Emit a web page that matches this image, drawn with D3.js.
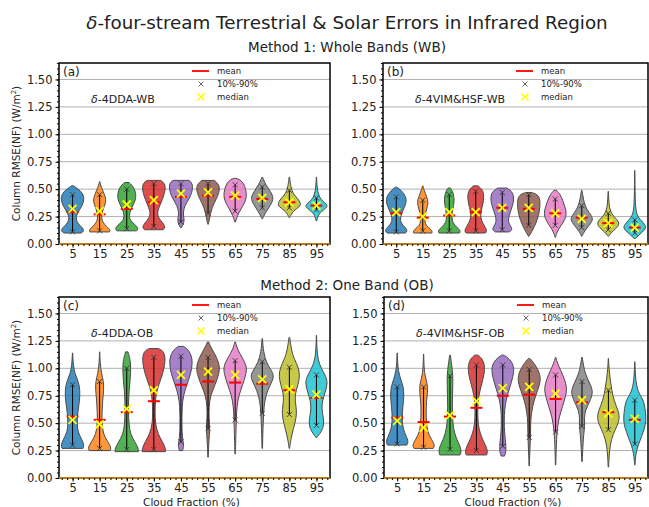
<!DOCTYPE html>
<html>
<head>
<meta charset="utf-8">
<script src="https://cdn.jsdelivr.net/npm/d3@7"></script>
<style>
  body { margin: 0; background: #fff; }
  text { font-family: "DejaVu Sans", sans-serif; fill: #222; }
</style>
</head>
<body>
<svg id="chart" width="649" height="507"></svg>
<script>
// cloud fraction bins
const categories = [5, 15, 25, 35, 45, 55, 65, 75, 85, 95];
const yTicks = [0, 0.25, 0.5, 0.75, 1.0, 1.25, 1.5];
const colors = ["#1f77b4", "#ff7f0e", "#2ca02c", "#d62728", "#9467bd", "#8c564b", "#e377c2", "#7f7f7f", "#bcbd22", "#17becf"];

// (a) delta-4DDA-WB
const medianA = [0.32, 0.30, 0.36, 0.40, 0.46, 0.47, 0.44, 0.42, 0.38, 0.35];
const meanA   = [0.29, 0.27, 0.32, 0.38, 0.43, 0.44, 0.43, 0.41, 0.38, 0.35];
const p10A    = [0.11, 0.12, 0.14, 0.16, 0.20, 0.28, 0.30, 0.33, 0.33, 0.31];
const p90A    = [0.45, 0.45, 0.50, 0.55, 0.55, 0.55, 0.54, 0.52, 0.49, 0.42];
// violin outlines: [value, relative half width]
const shapeA = [
  [[0.10,0.75],[0.12,1.0],[0.15,0.85],[0.19,0.4],[0.24,0.28],[0.29,0.45],[0.35,0.85],[0.41,1.0],[0.46,0.9],[0.50,0.5],[0.53,0.1]],
  [[0.11,0.85],[0.13,0.9],[0.16,0.6],[0.20,0.22],[0.26,0.15],[0.32,0.3],[0.38,0.55],[0.43,0.5],[0.49,0.25],[0.54,0.08],[0.57,0.0]],
  [[0.12,0.85],[0.14,1.0],[0.17,0.8],[0.21,0.3],[0.26,0.2],[0.32,0.35],[0.39,0.75],[0.46,0.8],[0.52,0.6],[0.56,0.2]],
  [[0.13,0.8],[0.15,1.0],[0.19,0.8],[0.24,0.35],[0.30,0.3],[0.37,0.6],[0.44,0.85],[0.50,1.0],[0.55,0.95],[0.58,0.6]],
  [[0.15,0.05],[0.18,0.2],[0.22,0.3],[0.26,0.2],[0.32,0.22],[0.38,0.5],[0.44,0.85],[0.50,1.0],[0.55,1.0],[0.58,0.7]],
  [[0.18,0.02],[0.24,0.15],[0.30,0.25],[0.37,0.5],[0.43,0.8],[0.49,1.0],[0.54,0.95],[0.58,0.55]],
  [[0.20,0.02],[0.26,0.2],[0.32,0.5],[0.38,0.85],[0.44,1.0],[0.50,0.9],[0.55,0.75],[0.59,0.4],[0.60,0.0]],
  [[0.23,0.02],[0.30,0.35],[0.36,0.75],[0.42,1.0],[0.48,0.7],[0.54,0.3],[0.61,0.02]],
  [[0.24,0.02],[0.30,0.3],[0.34,0.9],[0.37,1.0],[0.41,0.75],[0.46,0.3],[0.52,0.12],[0.61,0.02]],
  [[0.21,0.02],[0.28,0.2],[0.32,0.75],[0.35,1.0],[0.38,0.65],[0.43,0.18],[0.52,0.05],[0.61,0.01]]
];

// (b) delta-4VIM&HSF-WB
const medianB = [0.29, 0.25, 0.29, 0.29, 0.33, 0.33, 0.28, 0.23, 0.19, 0.15];
const meanB   = [0.28, 0.24, 0.26, 0.29, 0.33, 0.32, 0.28, 0.24, 0.19, 0.15];
const p10B    = [0.11, 0.12, 0.12, 0.12, 0.13, 0.17, 0.17, 0.15, 0.13, 0.10];
const p90B    = [0.43, 0.40, 0.45, 0.48, 0.47, 0.45, 0.41, 0.35, 0.28, 0.22];
const shapeB = [
  [[0.10,0.8],[0.12,1.0],[0.15,0.8],[0.19,0.4],[0.24,0.35],[0.30,0.55],[0.36,0.85],[0.42,0.9],[0.47,0.6],[0.51,0.2],[0.52,0.0]],
  [[0.10,0.8],[0.12,0.85],[0.15,0.5],[0.18,0.2],[0.25,0.15],[0.32,0.35],[0.38,0.5],[0.43,0.35],[0.49,0.12],[0.53,0.02]],
  [[0.10,0.9],[0.12,1.0],[0.15,0.7],[0.19,0.3],[0.25,0.22],[0.32,0.3],[0.38,0.45],[0.44,0.4],[0.48,0.3],[0.51,0.1]],
  [[0.10,0.85],[0.12,1.0],[0.16,0.8],[0.21,0.5],[0.27,0.4],[0.33,0.55],[0.40,0.7],[0.46,0.7],[0.50,0.55],[0.53,0.2]],
  [[0.11,0.6],[0.13,0.9],[0.16,0.75],[0.20,0.5],[0.26,0.6],[0.32,0.8],[0.38,1.0],[0.44,1.0],[0.48,0.85],[0.51,0.4]],
  [[0.07,0.02],[0.11,0.25],[0.16,0.5],[0.22,0.75],[0.30,0.95],[0.37,1.0],[0.43,0.95],[0.46,0.6],[0.47,0.2]],
  [[0.06,0.02],[0.11,0.15],[0.16,0.45],[0.22,0.85],[0.28,1.0],[0.34,0.85],[0.40,0.65],[0.45,0.45],[0.49,0.1]],
  [[0.07,0.02],[0.12,0.25],[0.17,0.65],[0.22,1.0],[0.26,0.85],[0.31,0.45],[0.38,0.2],[0.44,0.1],[0.49,0.02]],
  [[0.07,0.02],[0.11,0.3],[0.15,0.8],[0.19,1.0],[0.23,0.7],[0.27,0.3],[0.33,0.1],[0.40,0.05],[0.48,0.01]],
  [[0.05,0.05],[0.09,0.45],[0.13,0.9],[0.16,1.0],[0.20,0.7],[0.24,0.3],[0.30,0.1],[0.40,0.04],[0.55,0.02],[0.67,0.01]]
];

// (c) delta-4DDA-OB
const medianC = [0.53, 0.49, 0.63, 0.80, 0.94, 0.97, 0.94, 0.90, 0.81, 0.76];
const meanC   = [0.56, 0.53, 0.60, 0.70, 0.85, 0.88, 0.87, 0.86, 0.80, 0.73];
const p10C    = [0.30, 0.27, 0.26, 0.26, 0.33, 0.45, 0.53, 0.59, 0.58, 0.48];
const p90C    = [0.85, 0.88, 1.00, 1.10, 1.11, 1.10, 1.07, 1.06, 1.01, 0.94];
const shapeC = [
  [[0.27,0.9],[0.30,1.0],[0.35,0.8],[0.42,0.45],[0.50,0.38],[0.60,0.45],[0.70,0.6],[0.80,0.65],[0.88,0.5],[0.95,0.2],[1.03,0.06],[1.14,0.01]],
  [[0.25,0.9],[0.28,1.0],[0.33,0.7],[0.40,0.3],[0.50,0.2],[0.60,0.2],[0.70,0.25],[0.80,0.35],[0.88,0.35],[0.95,0.15],[1.05,0.04],[1.15,0.01]],
  [[0.24,1.0],[0.27,1.0],[0.32,0.75],[0.40,0.3],[0.50,0.18],[0.60,0.15],[0.70,0.15],[0.80,0.2],[0.90,0.3],[1.00,0.35],[1.08,0.3],[1.15,0.1]],
  [[0.24,1.0],[0.27,1.0],[0.33,0.75],[0.40,0.35],[0.50,0.12],[0.60,0.1],[0.70,0.12],[0.80,0.25],[0.90,0.6],[1.00,0.9],[1.10,1.0],[1.16,0.8],[1.18,0.4]],
  [[0.25,0.15],[0.30,0.25],[0.35,0.15],[0.45,0.08],[0.55,0.08],[0.65,0.1],[0.75,0.2],[0.85,0.5],[0.95,0.85],[1.05,1.0],[1.12,0.9],[1.18,0.55],[1.20,0.2]],
  [[0.19,0.02],[0.30,0.05],[0.40,0.12],[0.47,0.15],[0.55,0.08],[0.65,0.08],[0.75,0.2],[0.85,0.6],[0.95,0.95],[1.02,1.0],[1.10,0.75],[1.18,0.3],[1.24,0.05]],
  [[0.22,0.02],[0.35,0.05],[0.45,0.08],[0.55,0.1],[0.65,0.15],[0.75,0.3],[0.85,0.65],[0.95,0.95],[1.02,1.0],[1.10,0.6],[1.17,0.2],[1.24,0.03]],
  [[0.27,0.02],[0.40,0.05],[0.50,0.08],[0.60,0.12],[0.70,0.2],[0.80,0.45],[0.88,0.85],[0.93,1.0],[0.98,0.8],[1.05,0.35],[1.15,0.1],[1.27,0.02]],
  [[0.27,0.02],[0.35,0.12],[0.45,0.35],[0.55,0.6],[0.62,0.62],[0.70,0.5],[0.77,0.5],[0.85,0.75],[0.93,0.9],[1.00,0.8],[1.08,0.45],[1.15,0.2],[1.28,0.03]],
  [[0.37,0.05],[0.42,0.4],[0.48,0.65],[0.55,0.6],[0.63,0.45],[0.70,0.5],[0.78,0.75],[0.86,0.95],[0.92,0.85],[1.00,0.4],[1.08,0.12],[1.18,0.04],[1.30,0.01]]
];

// (d) delta-4VIM&HSF-OB
const medianD = [0.52, 0.46, 0.57, 0.70, 0.82, 0.83, 0.77, 0.71, 0.59, 0.54];
const meanD   = [0.55, 0.51, 0.56, 0.64, 0.75, 0.76, 0.72, 0.69, 0.60, 0.53];
const p10D    = [0.31, 0.28, 0.26, 0.25, 0.29, 0.37, 0.42, 0.47, 0.44, 0.31];
const p90D    = [0.83, 0.83, 0.93, 1.03, 1.03, 0.99, 0.94, 0.88, 0.80, 0.71];
const shapeD = [
  [[0.30,0.85],[0.33,1.0],[0.38,0.8],[0.45,0.5],[0.55,0.42],[0.65,0.5],[0.75,0.6],[0.83,0.55],[0.90,0.3],[0.98,0.1],[1.05,0.04],[1.14,0.01]],
  [[0.27,0.85],[0.30,1.0],[0.35,0.7],[0.42,0.35],[0.50,0.25],[0.60,0.22],[0.70,0.25],[0.78,0.35],[0.85,0.35],[0.92,0.15],[1.00,0.04],[1.13,0.01]],
  [[0.21,0.9],[0.24,1.0],[0.29,0.9],[0.36,0.55],[0.45,0.3],[0.55,0.22],[0.65,0.2],[0.75,0.22],[0.85,0.25],[0.95,0.25],[1.03,0.15],[1.12,0.03]],
  [[0.21,0.9],[0.24,1.0],[0.29,0.85],[0.36,0.5],[0.45,0.2],[0.55,0.12],[0.65,0.12],[0.75,0.2],[0.85,0.45],[0.95,0.7],[1.03,0.75],[1.09,0.5],[1.12,0.15]],
  [[0.20,0.15],[0.25,0.3],[0.32,0.25],[0.42,0.15],[0.52,0.12],[0.62,0.15],[0.72,0.3],[0.82,0.6],[0.92,0.9],[1.00,1.0],[1.06,0.8],[1.10,0.4],[1.12,0.1]],
  [[0.11,0.02],[0.20,0.04],[0.30,0.08],[0.40,0.12],[0.50,0.12],[0.60,0.2],[0.70,0.4],[0.80,0.75],[0.88,1.0],[0.95,0.95],[1.02,0.6],[1.07,0.25],[1.09,0.05]],
  [[0.12,0.02],[0.25,0.05],[0.35,0.08],[0.45,0.15],[0.55,0.3],[0.65,0.6],[0.75,0.9],[0.82,1.0],[0.90,0.8],[0.98,0.45],[1.05,0.15],[1.10,0.02]],
  [[0.15,0.02],[0.30,0.08],[0.40,0.15],[0.48,0.25],[0.55,0.2],[0.62,0.3],[0.70,0.7],[0.77,0.95],[0.83,0.85],[0.90,0.5],[0.98,0.2],[1.10,0.02]],
  [[0.10,0.02],[0.20,0.06],[0.30,0.15],[0.40,0.4],[0.48,0.8],[0.55,1.0],[0.62,0.85],[0.70,0.5],[0.80,0.3],[0.90,0.15],[1.00,0.05],[1.09,0.01]],
  [[0.12,0.02],[0.22,0.08],[0.30,0.3],[0.38,0.6],[0.45,0.85],[0.52,1.0],[0.60,0.95],[0.67,0.85],[0.72,0.7],[0.78,0.3],[0.88,0.08],[1.00,0.03],[1.06,0.01]]
];

const svg = d3.select("#chart");
svg.append("rect").attr("width", 649).attr("height", 507).attr("fill", "#fff");

svg.append("text").attr("x", 347).attr("y", 29).attr("text-anchor", "middle")
  .style("font-size", "18.3px")
  .html('<tspan font-style="italic">δ</tspan>-four-stream Terrestrial &amp; Solar Errors in Infrared Region');
svg.append("text").attr("x", 347).attr("y", 52).attr("text-anchor", "middle")
  .style("font-size", "13.5px").text("Method 1: Whole Bands (WB)");
svg.append("text").attr("x", 347).attr("y", 290).attr("text-anchor", "middle")
  .style("font-size", "13.5px").text("Method 2: One Band (OB)");

const panels = [
  { tag: "(a)", name: "4DDA-WB",     box: [59, 330, 63, 244],  median: medianA, mean: meanA, p10: p10A, p90: p90A, shape: shapeA, ylab: true,  xlab: false },
  { tag: "(b)", name: "4VIM&HSF-WB", box: [383, 648, 63, 244], median: medianB, mean: meanB, p10: p10B, p90: p90B, shape: shapeB, ylab: false, xlab: false },
  { tag: "(c)", name: "4DDA-OB",     box: [59, 330, 297, 478], median: medianC, mean: meanC, p10: p10C, p90: p90C, shape: shapeC, ylab: true,  xlab: true },
  { tag: "(d)", name: "4VIM&HSF-OB", box: [384, 648, 297, 478], median: medianD, mean: meanD, p10: p10D, p90: p90D, shape: shapeD, ylab: false, xlab: true }
];

function xMark(g, cx, cy, r, color, w) {
  g.append("path")
    .attr("d", `M${cx - r},${cy - r}L${cx + r},${cy + r}M${cx - r},${cy + r}L${cx + r},${cy - r}`)
    .attr("stroke", color).attr("stroke-width", w).attr("fill", "none");
}

panels.forEach(p => {
  const [x0, x1, y0, y1] = p.box;
  const g = svg.append("g");
  const x = d3.scaleLinear().domain([0.5, 10.5]).range([x0, x1]);
  const y = d3.scaleLinear().domain([0, 1.65]).range([y1, y0]);
  const step = x(2) - x(1);
  const hw = 0.43 * step;

  // grid
  g.selectAll(".grid").data(yTicks.slice(1)).join("line")
    .attr("x1", x0).attr("x2", x1).attr("y1", d => y(d)).attr("y2", d => y(d))
    .attr("stroke", "#b0b0b0").attr("stroke-width", 1);

  // violins
  categories.forEach((c, i) => {
    const cx = x(i + 1);
    const area = d3.area().curve(d3.curveBasis)
      .y(d => y(d[0])).x0(d => cx - d[1] * hw).x1(d => cx + d[1] * hw);
    g.append("path").attr("d", area(p.shape[i]))
      .attr("fill", colors[i]).attr("fill-opacity", 0.82)
      .attr("stroke", "#4a4a4a").attr("stroke-width", 1);
  });

  categories.forEach((c, i) => {
    const cx = x(i + 1);
    g.append("line").attr("x1", cx).attr("x2", cx)
      .attr("y1", y(p.p10[i])).attr("y2", y(p.p90[i]))
      .attr("stroke", "#000").attr("stroke-width", 1);
    xMark(g, cx, y(p.p10[i]), 2.5, "#333", 0.9);
    xMark(g, cx, y(p.p90[i]), 2.5, "#333", 0.9);
    g.append("line").attr("x1", cx - 6).attr("x2", cx + 6)
      .attr("y1", y(p.mean[i])).attr("y2", y(p.mean[i]))
      .attr("stroke", "#ff0000").attr("stroke-width", 2);
    xMark(g, cx, y(p.median[i]), 4, "#ffff00", 1.8);
  });

  // frame
  g.append("rect").attr("x", x0).attr("y", y0).attr("width", x1 - x0).attr("height", y1 - y0)
    .attr("fill", "none").attr("stroke", "#000").attr("stroke-width", 1.5);
  g.append("line").attr("x1", x0).attr("x2", x1).attr("y1", y(0)).attr("y2", y(0))
    .attr("stroke", "#e69500").attr("stroke-width", 1.6);

  // axes
  const yAxis = d3.axisLeft(y).tickValues(yTicks).tickFormat(d3.format(".2f")).tickSize(3.5).tickPadding(3);
  const yMinor = d3.axisLeft(y).tickValues(d3.range(0, 1.651, 0.05)).tickFormat("").tickSize(2);
  const xAxis = d3.axisBottom(x).tickValues(d3.range(1, 11)).tickFormat(d => categories[d - 1]).tickSize(3.5).tickPadding(2.5);
  const xMinor = d3.axisBottom(x).tickValues(d3.range(0.6, 10.45, 0.2)).tickFormat("").tickSize(2);
  [yMinor, yAxis].forEach(a => {
    const ga = g.append("g").attr("transform", `translate(${x0},0)`).call(a);
    ga.select(".domain").remove();
    ga.selectAll("text").style("font-size", "11.5px").attr("fill", "#222").style("font-family", "DejaVu Sans");
  });
  [xMinor, xAxis].forEach(a => {
    const ga = g.append("g").attr("transform", `translate(0,${y1})`).call(a);
    ga.select(".domain").remove();
    ga.selectAll("text").style("font-size", "11.5px").attr("fill", "#222").style("font-family", "DejaVu Sans");
  });

  // texts
  g.append("text").attr("x", x0 + 4).attr("y", y0 + 13).style("font-size", "12px").text(p.tag);
  g.append("text").attr("x", x0 + 32).attr("y", y0 + 40).style("font-size", "11px")
    .html('<tspan font-style="italic">δ</tspan>-' + p.name.replace("&", "&amp;"));

  // legend
  const lx = x0 + 142;
  g.append("line").attr("x1", lx - 9).attr("x2", lx + 8).attr("y1", y0 + 8).attr("y2", y0 + 8)
    .attr("stroke", "#ff0000").attr("stroke-width", 1.8);
  xMark(g, lx, y0 + 21, 2.5, "#555", 0.9);
  xMark(g, lx, y0 + 34, 3.5, "#ffff00", 1.6);
  [["mean", 8], ["10%-90%", 21], ["median", 34]].forEach(([t, dy]) => {
    g.append("text").attr("x", lx + 16).attr("y", y0 + dy + 3).style("font-size", "8.5px").text(t);
  });

  if (p.ylab) {
    g.append("text").attr("transform", `translate(${x0 - 39},${(y0 + y1) / 2}) rotate(-90)`)
      .attr("text-anchor", "middle").style("font-size", "10.5px")
      .html('Column RMSE(NF) (W/m<tspan dy="-4" font-size="7px">2</tspan><tspan dy="4">)</tspan>');
  }
  if (p.xlab) {
    g.append("text").attr("x", (x0 + x1) / 2 - 3).attr("y", y1 + 27.5).attr("text-anchor", "middle")
      .style("font-size", "10.5px").text("Cloud Fraction (%)");
  }
});
</script>
</body>
</html>
